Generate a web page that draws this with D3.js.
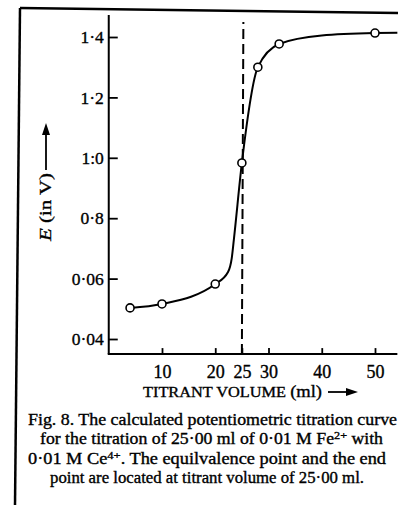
<!DOCTYPE html>
<html>
<head>
<meta charset="utf-8">
<script src="https://cdn.jsdelivr.net/npm/d3@7"></script>
<style>
  body { margin: 0; background: #fff; }
  svg { display: block; font-family: "Liberation Serif", "DejaVu Serif", serif; }
  svg text { stroke: #000; stroke-width: 0.35px; }
</style>
</head>
<body>
<div id="chart"></div>
<script>
// Titration curve data
const volumes = [4, 10, 20, 25, 28, 32, 50];              // ml, plotted circles
const potentials = [0.503, 0.516, 0.582, 0.983, 1.30, 1.377, 1.413]; // V
// extra points (knee + tail)
const curveVolumes = [4, 10, 20, 22.4, 23.1, 23.5, 25, 28, 32, 40, 50, 54.2];
const curvePotentials = [0.503, 0.516, 0.582, 0.622, 0.668, 0.73, 0.983, 1.30, 1.377, 1.405, 1.413, 1.414];

const xTicks = [10, 20, 25, 30, 40, 50];
const yTicks = [0.4, 0.6, 0.8, 1.0, 1.2, 1.4];
const yTickLabels = ["0·04", "0·06", "0·8", "1:0", "1·2", "1·4"]; // as printed
const equivalenceVolume = 25;

const captionLines = [
    "Fig. 8.  The calculated potentiometric titration curve",
    "for the titration of 25·00 ml of 0·01 M Fe|2+| with",
    "0·01 M Ce|4+|. The equilvalence point and the end",
    "point are located at titrant volume of 25·00 ml."
];

class TitrationCurve {
    constructor(parentElement) {
        this.parentElement = parentElement;
        this.initVis();
    }

    initVis() {
        const vis = this;
        vis.width = 398;
        vis.height = 505;

        vis.svg = d3.select(`#${vis.parentElement}`)
            .append("svg")
            .attr("width", vis.width)
            .attr("height", vis.height);

        // page frame lines (scan edges)
        vis.svg.append("line")
            .attr("x1", 20).attr("y1", 8).attr("x2", 398).attr("y2", 13)
            .attr("stroke", "#000").attr("stroke-width", 2.5);
        vis.svg.append("line")
            .attr("x1", 20).attr("y1", 8).attr("x2", 15).attr("y2", 505)
            .attr("stroke", "#000").attr("stroke-width", 2.5);

        // Scales
        vis.x = d3.scaleLinear().domain([0, 50]).range([108.75, 375]);
        vis.y = d3.scaleLinear().domain([0.4, 1.4]).range([339, 37]);

        const xMax = 54.2, yMin = 0.35, yMax = 1.473;

        // Axis lines
        vis.svg.append("line")
            .attr("x1", vis.x(0)).attr("x2", vis.x(0))
            .attr("y1", vis.y(yMax)).attr("y2", vis.y(yMin))
            .attr("stroke", "#000").attr("stroke-width", 2);
        vis.svg.append("line")
            .attr("x1", vis.x(0) - 1).attr("x2", vis.x(xMax))
            .attr("y1", vis.y(yMin)).attr("y2", vis.y(yMin))
            .attr("stroke", "#000").attr("stroke-width", 2);

        // Axes
        const xAxis = vis.svg.append("g")
            .attr("transform", `translate(0,${vis.y(yMin)})`)
            .call(d3.axisBottom(vis.x).tickValues(xTicks)
                .tickSizeInner(-6).tickSizeOuter(0).tickPadding(11));

        const yAxis = vis.svg.append("g")
            .attr("transform", `translate(${vis.x(0)},0)`)
            .call(d3.axisLeft(vis.y).tickValues(yTicks)
                .tickFormat((d, i) => yTickLabels[i])
                .tickSizeInner(-9).tickSizeOuter(0).tickPadding(5));

        [xAxis, yAxis].forEach(g => {
            g.select(".domain").remove();
            g.selectAll(".tick line").attr("stroke", "#000").attr("stroke-width", 1.8);
            g.selectAll("text")
                .attr("fill", "#000")
                .style("font-family", "Liberation Serif, serif");
        });
        xAxis.selectAll("text").style("font-size", "18px");
        yAxis.selectAll("text").style("font-size", "17.5px");

        // Equivalence point dashed line
        vis.svg.append("line")
            .attr("x1", vis.x(equivalenceVolume)).attr("x2", vis.x(equivalenceVolume) + 1.5)
            .attr("y1", vis.y(yMin)).attr("y2", 22)
            .attr("stroke", "#000").attr("stroke-width", 2)
            .attr("stroke-dasharray", "10,5");

        // Curve
        const curveData = curveVolumes.map((v, i) => ({ v: v, e: curvePotentials[i] }));
        vis.line = d3.line()
            .x(d => vis.x(d.v))
            .y(d => vis.y(d.e))
            .curve(d3.curveMonotoneX);

        vis.svg.append("path")
            .datum(curveData)
            .attr("fill", "none")
            .attr("stroke", "#000")
            .attr("stroke-width", 2)
            .attr("d", vis.line);

        // Points
        vis.svg.selectAll(".pt")
            .data(volumes.map((v, i) => ({ v: v, e: potentials[i] })))
            .enter().append("circle")
            .attr("class", "pt")
            .attr("cx", d => vis.x(d.v))
            .attr("cy", d => vis.y(d.e))
            .attr("r", 4)
            .attr("fill", "#fff")
            .attr("stroke", "#000")
            .attr("stroke-width", 1.6);

        // x axis title
        const xt = vis.svg.append("text")
            .attr("x", 143).attr("y", 397)
            .attr("fill", "#000")
            .attr("textLength", 179)
            .attr("lengthAdjust", "spacingAndGlyphs");
        xt.append("tspan").style("font-size", "15px").text("TITRANT VOLUME ");
        xt.append("tspan").style("font-size", "17px").text("(ml)");
        vis.arrow(328, 392, 358, 392);

        // y axis title
        const yt = vis.svg.append("text")
            .attr("x", -241).attr("y", 51)
            .attr("transform", "rotate(-90)")
            .attr("fill", "#000")
            .attr("textLength", 68)
            .attr("lengthAdjust", "spacingAndGlyphs")
            .style("font-size", "17px");
        yt.append("tspan").style("font-style", "italic").text("E");
        yt.append("tspan").text(" (in V)");
        vis.arrow(46, 170, 46, 123);

        // caption, widths/centres measured on the figure
        const capX = [28, 40, 28, 50];
        const capW = [369, 343, 358, 314];
        captionLines.forEach((line, i) => {
            const t = vis.svg.append("text")
                .attr("x", capX[i])
                .attr("y", 425 + i * 19.3)
                .attr("fill", "#000")
                .attr("textLength", capW[i])
                .attr("lengthAdjust", "spacingAndGlyphs")
                .style("font-size", "16px");
            line.split("|").forEach((part, j) => {
                const s = t.append("tspan").text(part);
                if (j % 2 === 1) s.attr("dy", -5).style("font-size", "11px");
                else if (j > 0) s.attr("dy", 5);
            });
        });
    }

    arrow(x1, y1, x2, y2) {
        const vis = this;
        const ang = Math.atan2(y2 - y1, x2 - x1);
        const L = 12, W = 4;
        const bx = x2 - L * Math.cos(ang), by = y2 - L * Math.sin(ang);
        vis.svg.append("line")
            .attr("x1", x1).attr("y1", y1).attr("x2", bx).attr("y2", by)
            .attr("stroke", "#000").attr("stroke-width", 1.8);
        const px = -Math.sin(ang) * W, py = Math.cos(ang) * W;
        vis.svg.append("path")
            .attr("d", `M${x2},${y2}L${bx + px},${by + py}L${bx - px},${by - py}Z`)
            .attr("fill", "#000");
    }
}

new TitrationCurve("chart");
</script>
</body>
</html>
